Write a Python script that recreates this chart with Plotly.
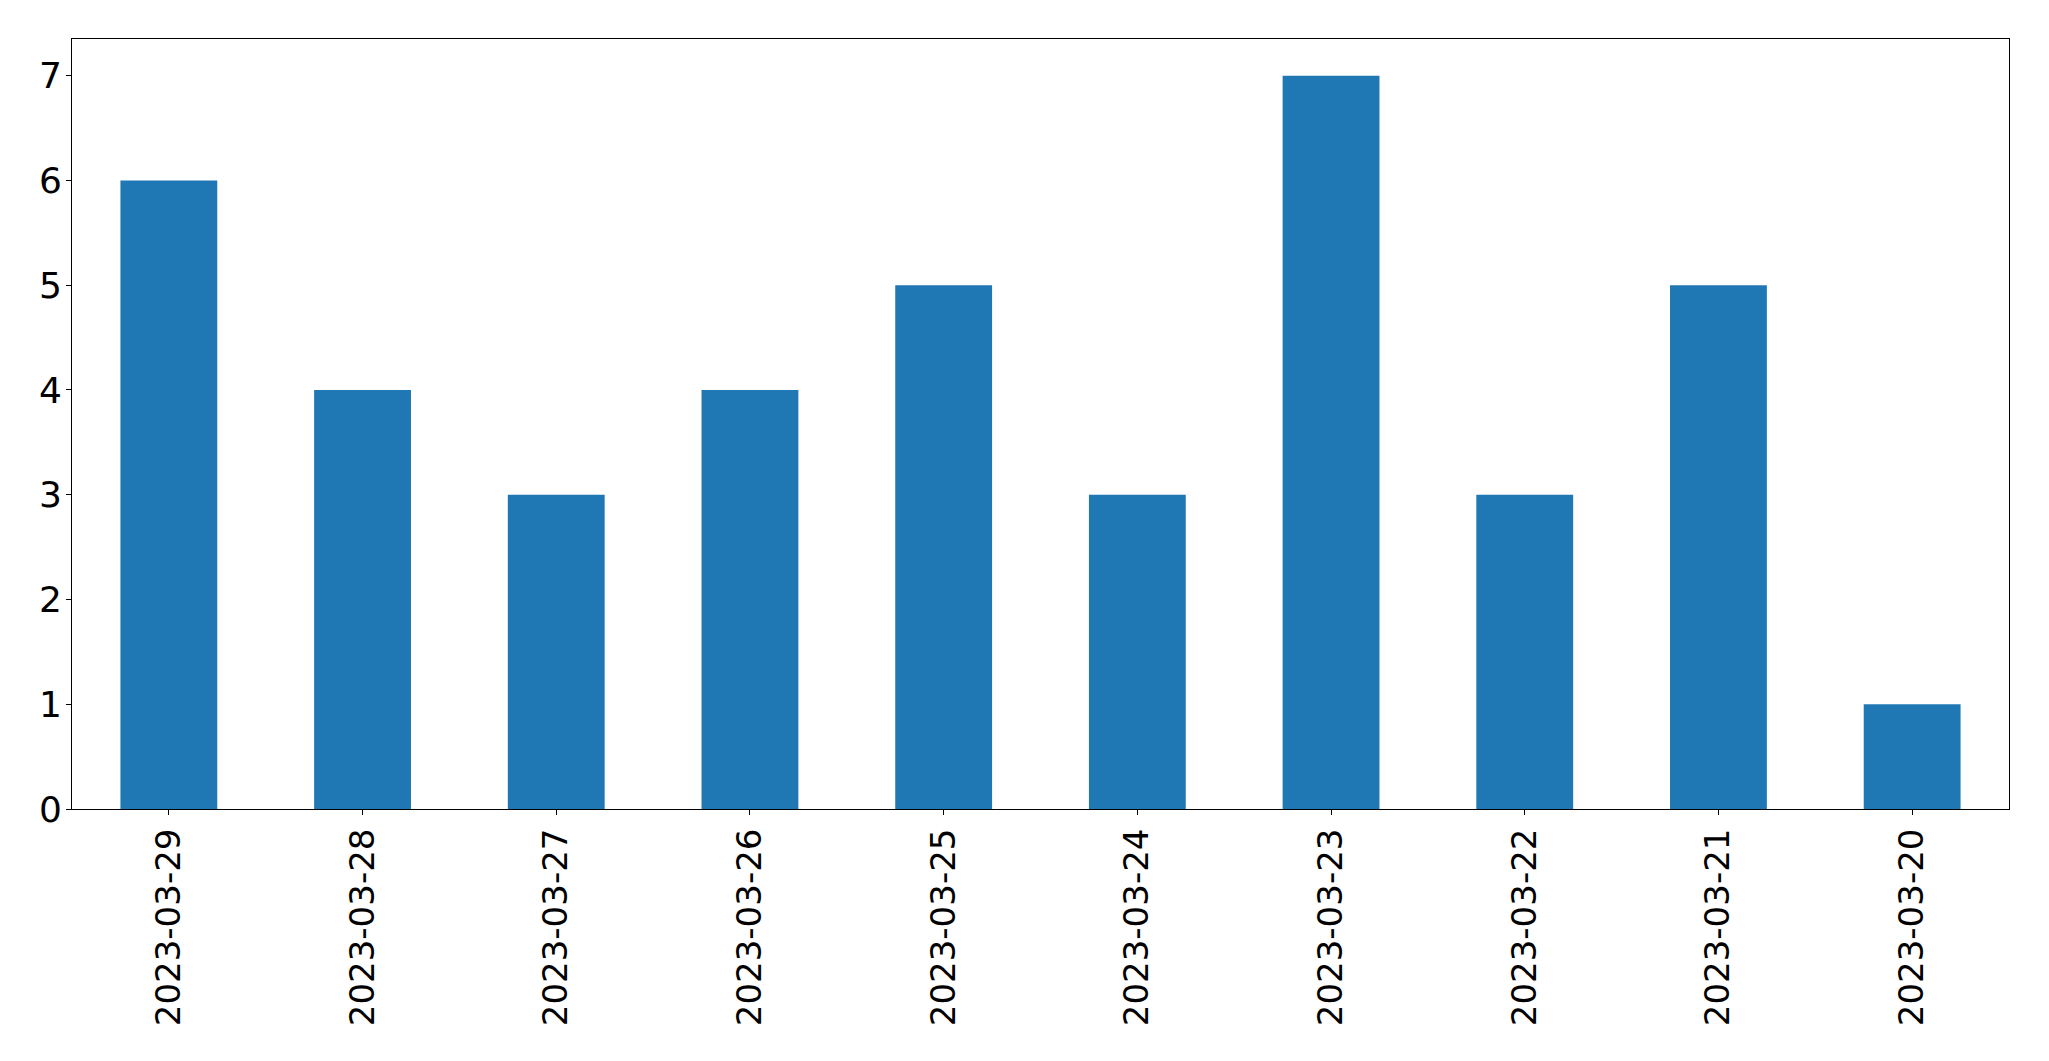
import plotly.graph_objects as go

dates = ["2023-03-29", "2023-03-28", "2023-03-27", "2023-03-26", "2023-03-25",
         "2023-03-24", "2023-03-23", "2023-03-22", "2023-03-21", "2023-03-20"]
counts = [6, 4, 3, 4, 5, 3, 7, 3, 5, 1]

fig = go.Figure(go.Bar(x=dates, y=counts, marker_color="#1f77b4", marker_line_width=0))

# page body adds ~8px offset, so margins are trimmed to land the axes where the original sits
fig.update_layout(
    width=2049, height=1061,
    margin={"l": 64, "r": 48, "t": 31, "b": 260},
    plot_bgcolor="white", paper_bgcolor="white",
    bargap=0.5, showlegend=False,
    font={"family": "DejaVu Sans", "size": 34, "color": "black"},
)
fig.update_xaxes(
    type="category", range=[-0.5, 9.5], tickangle=-90,
    showline=True, mirror=True, linecolor="black", linewidth=1,
    ticks="outside", ticklen=5, tickcolor="black", showgrid=False,
)
fig.update_yaxes(
    range=[0, 7.35], dtick=1, tickfont_size=36, ticklabelstandoff=-3,
    showline=True, mirror=True, linecolor="black", linewidth=1,
    ticks="outside", ticklen=5, tickcolor="black", showgrid=False, zeroline=False,
)

fig.write_html("out.html")
